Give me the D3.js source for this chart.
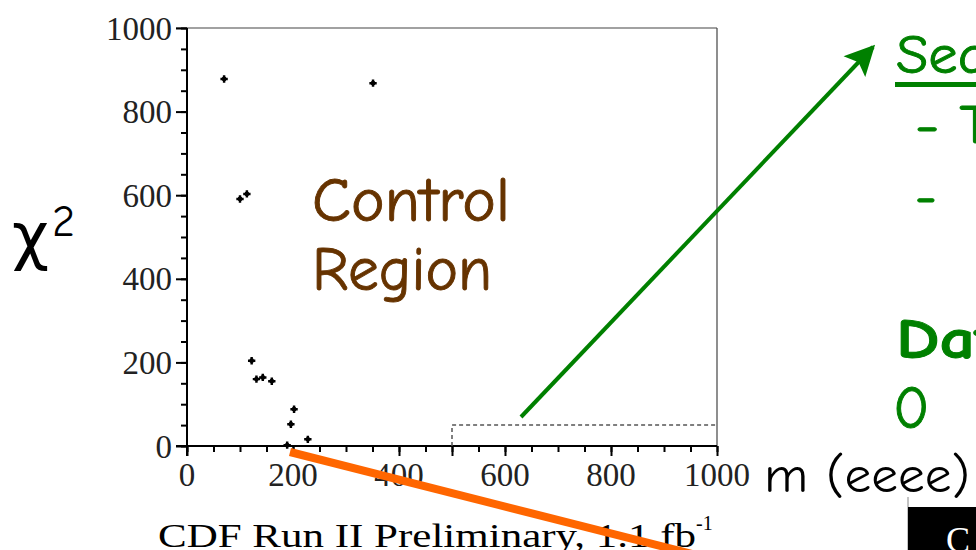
<!DOCTYPE html>
<html>
<head>
<meta charset="utf-8">
<script src="https://cdn.jsdelivr.net/npm/d3@7"></script>
<style>
  html, body { margin: 0; padding: 0; background: #fff; overflow: hidden; }
  svg { display: block; }
  .hand { font-family: "Comic Sans MS", "Comic Neue", "DejaVu Sans", sans-serif; stroke-width: 0.9; }
  .serif { font-family: "Liberation Serif", "Times New Roman", serif; }
</style>
</head>
<body>
<script>
// Candidate events: invariant mass m (eeee) vs. kinematic fit chi-square
const massValues = [70, 351, 100, 113, 122, 131, 143, 160, 202, 196, 228, 189];
const chi2Values = [878, 868, 591, 603, 204, 160, 164, 155, 88, 52, 16, 2];
const xTickLabels = [0, 200, 400, 600, 800, 1000];
const yTickLabels = [0, 200, 400, 600, 800, 1000];
// Signal (search) region: m > 500, chi2 < 50
const searchRegionMass = [500, 1000];
const searchRegionChi2 = [0, 50];

const W = 976, H = 550;
const svg = d3.select("body").append("svg").attr("width", W).attr("height", H);

const x = d3.scaleLinear().domain([0, 1000]).range([187, 717]);
const y = d3.scaleLinear().domain([0, 1000]).range([446, 28]);

// Frame: top and right edges
svg.append("line").attr("x1", x(0) - 11).attr("x2", x(1000)).attr("y1", y(1000)).attr("y2", y(1000))
  .attr("stroke", "#444").attr("stroke-width", 1.2);
svg.append("line").attr("x1", x(1000)).attr("x2", x(1000)).attr("y1", y(1000)).attr("y2", y(0))
  .attr("stroke", "#444").attr("stroke-width", 1.2);

// Minor ticks every 50
const minor = d3.range(0, 1001, 50);
const xMajor = xTickLabels.concat([500]);

const gx = svg.append("g").attr("transform", `translate(0,${y(0)})`);
gx.call(d3.axisBottom(x).tickValues(minor).tickSize(6).tickFormat(""));
gx.append("g").call(d3.axisBottom(x).tickValues(xMajor).tickSize(10).tickFormat(""));
gx.selectAll(".tick line").attr("stroke", "#000").attr("stroke-width", 2);
gx.append("line").attr("x1", x(0) - 11).attr("x2", x(0)).attr("y1", 0).attr("y2", 0)
  .attr("stroke", "#000").attr("stroke-width", 2);
gx.selectAll("text.xl").data(xTickLabels).enter().append("text")
  .attr("class", "serif xl").attr("x", d => x(d)).attr("y", 40)
  .attr("text-anchor", "middle").attr("font-size", 33).attr("fill", "#222").text(d => d);

const gy = svg.append("g").attr("transform", `translate(${x(0)},0)`);
gy.call(d3.axisLeft(y).tickValues(minor).tickSize(6).tickFormat(""));
gy.append("g").call(d3.axisLeft(y).tickValues(yTickLabels).tickSize(11).tickFormat(""));
gy.selectAll(".tick line").attr("stroke", "#000").attr("stroke-width", 2);
gy.selectAll("text.yl").data(yTickLabels).enter().append("text")
  .attr("class", "serif yl").attr("x", -15).attr("y", d => y(d)).attr("dy", "0.35em")
  .attr("text-anchor", "end").attr("font-size", 33).attr("fill", "#222").text(d => d);
gx.selectAll("path.domain").remove();
gy.selectAll("path.domain").remove();
svg.append("line").attr("x1", x(0)).attr("x2", x(0)).attr("y1", y(1000)).attr("y2", y(0) + 10)
  .attr("stroke", "#000").attr("stroke-width", 2);
svg.append("line").attr("x1", x(0)).attr("x2", x(1000)).attr("y1", y(0)).attr("y2", y(0))
  .attr("stroke", "#000").attr("stroke-width", 2);

// Search region box (dashed)
svg.append("path")
  .attr("d", `M${x(searchRegionMass[0])},${y(searchRegionChi2[0])}V${y(searchRegionChi2[1])}H${x(searchRegionMass[1])}`)
  .attr("fill", "none").attr("stroke", "#555").attr("stroke-width", 1.5).attr("stroke-dasharray", "4,3");

// Candidate points
const pts = massValues.map((m, i) => ({ m, c: chi2Values[i] }));
svg.selectAll("path.pt").data(pts).enter().append("path")
  .attr("class", "pt")
  .attr("transform", d => `translate(${x(d.m)},${y(d.c)})`)
  .attr("d", d3.symbol().type(d3.symbolCross).size(30))
  .attr("fill", "#000");
svg.selectAll("circle.pt").data(pts).enter().append("circle")
  .attr("cx", d => x(d.m)).attr("cy", d => y(d.c)).attr("r", 2.4).attr("fill", "#000");

// Axis titles
const chi = svg.append("text").attr("class", "hand").attr("x", 12).attr("y", 258)
  .attr("font-size", 64).attr("fill", "#000");
chi.append("tspan").text("χ");
chi.append("tspan").attr("font-size", 44).attr("dy", -22).attr("dx", 3).text("2");

svg.append("text").attr("class", "hand").attr("x", 764).attr("y", 492)
  .attr("font-size", 50).attr("fill", "#000")
  .attr("textLength", 206).attr("lengthAdjust", "spacingAndGlyphs").text("m (eeee)");

const ttl = svg.append("text").attr("class", "serif").attr("x", 158).attr("y", 547)
  .attr("font-size", 33).attr("fill", "#000");
ttl.append("tspan").attr("textLength", 538).attr("lengthAdjust", "spacingAndGlyphs")
  .text("CDF Run II Preliminary, 1.1 fb");
ttl.append("tspan").attr("font-size", 20).attr("dy", -17).text("-1");

// Region annotation
const brown = "#663300";
const ctl = svg.append("text").attr("class", "hand").attr("fill", brown).attr("stroke", brown).attr("font-size", 62);
ctl.append("tspan").attr("x", 312).attr("y", 221).attr("textLength", 198).attr("lengthAdjust", "spacingAndGlyphs").text("Control");
ctl.append("tspan").attr("x", 312).attr("y", 290).attr("textLength", 180).attr("lengthAdjust", "spacingAndGlyphs").text("Region");

// Arrow from the search box to the side notes
svg.append("defs").append("marker").attr("id", "ahead")
  .attr("viewBox", "0 0 10 10").attr("refX", 9).attr("refY", 5)
  .attr("markerWidth", 8).attr("markerHeight", 7.5).attr("markerUnits", "strokeWidth")
  .attr("orient", "auto")
  .append("path").attr("d", "M0,0L10,5L0,10L2,5z").attr("fill", "#008000");
svg.append("line").attr("x1", 521).attr("y1", 417).attr("x2", 873).attr("y2", 47)
  .attr("stroke", "#008000").attr("stroke-width", 4).attr("marker-end", "url(#ahead)");

// Orange pointer line
svg.append("line").attr("x1", 290).attr("y1", 452).attr("x2", 700).attr("y2", 556)
  .attr("stroke", "#ff6600").attr("stroke-width", 8);

// Side notes
const g = "#008000";
const note = (tx, ty, size, s, len, bold) => {
  const t = svg.append("text").attr("class", "hand").attr("x", tx).attr("y", ty)
    .attr("font-size", size).attr("fill", g).attr("stroke", g).text(s);
  if (len) t.attr("textLength", len).attr("lengthAdjust", "spacingAndGlyphs");
  if (bold) t.attr("font-weight", "bold");
  return t;
};
note(896, 73, 54, "Sea", 92);
svg.append("rect").attr("x", 895).attr("y", 82).attr("width", 90).attr("height", 5).attr("fill", g);
note(915, 143, 54, "- T", 76);
note(915, 214, 54, "-");
note(896, 358, 56, "Dat", 102, true);
note(893, 428, 60, "0");

// Corner box
svg.append("line").attr("x1", 908).attr("x2", 908).attr("y1", 497).attr("y2", 550).attr("stroke", "#888").attr("stroke-width", 1);
svg.append("rect").attr("x", 908).attr("y", 507).attr("width", 70).attr("height", 45).attr("fill", "#000");
svg.append("text").attr("class", "serif").attr("x", 946).attr("y", 552).attr("font-size", 36).attr("fill", "#fff").text("C");
</script>
</body>
</html>
